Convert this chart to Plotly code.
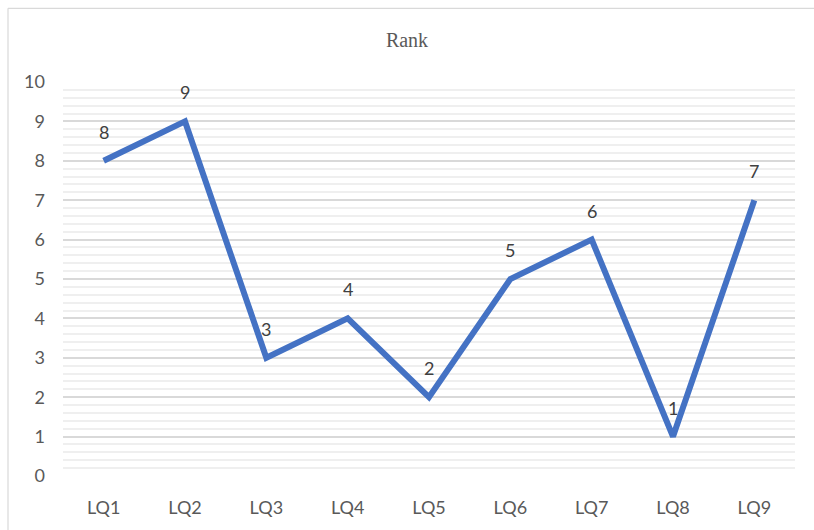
import plotly.graph_objects as go

categories = ["LQ1", "LQ2", "LQ3", "LQ4", "LQ5", "LQ6", "LQ7", "LQ8", "LQ9"]
ranks = [8, 9, 3, 4, 2, 5, 6, 1, 7]
y_ticks = list(range(0, 11))

W, H = 814, 530
ml, mr, mt, mb = 63, 19, 82, 52
pw, ph = W - ml - mr, H - mt - mb

fig = go.Figure()
fig.add_trace(go.Scatter(
    x=categories, y=ranks, mode="lines",
    line=dict(color="#4472C4", width=6),
    hoverinfo="skip", showlegend=False,
))
for c, v in zip(categories, ranks):
    fig.add_annotation(x=c, y=v, text=str(v), showarrow=False, yshift=29,
                       font=dict(family="Lato, Open Sans, sans-serif", size=18, color="#404040"))

# chart border (top and left edges visible)
px0 = (8 - ml) / pw
px1 = (W + 5 - ml) / pw
py_top = (H - mb - 8) / ph
py_bot = -(mb + 5) / ph
fig.add_shape(type="line", xref="paper", yref="paper", x0=px0, x1=px1, y0=py_top, y1=py_top,
              line=dict(color="#d9d9d9", width=1.2))
fig.add_shape(type="line", xref="paper", yref="paper", x0=px0, x1=px0, y0=py_bot, y1=py_top,
              line=dict(color="#d9d9d9", width=1.2))

fig.update_layout(
    width=W, height=H,
    margin=dict(l=ml, r=mr, t=mt, b=mb),
    paper_bgcolor="white", plot_bgcolor="white",
    title=dict(text="Rank", x=0.5, xanchor="center", y=1 - 40 / H, yanchor="middle",
               font=dict(family="Liberation Serif, DejaVu Serif, serif", size=20, color="#595959")),
    xaxis=dict(type="category", range=[-0.5, 8.5], showgrid=False, showline=False, zeroline=False,
               ticks="", ticklabelstandoff=19,
               tickfont=dict(family="Lato, Open Sans, sans-serif", size=18, color="#595959")),
    yaxis=dict(range=[0, 10], tickvals=y_ticks, showgrid=True, gridcolor="#d9d9d9", gridwidth=1.5,
               zeroline=False, showline=False, ticks="", ticklabelstandoff=17,
               minor=dict(dtick=0.2, showgrid=True, gridcolor="#efefef", gridwidth=1.5),
               tickfont=dict(family="Lato, Open Sans, sans-serif", size=18, color="#595959")),
)
fig.write_html("out.html")
